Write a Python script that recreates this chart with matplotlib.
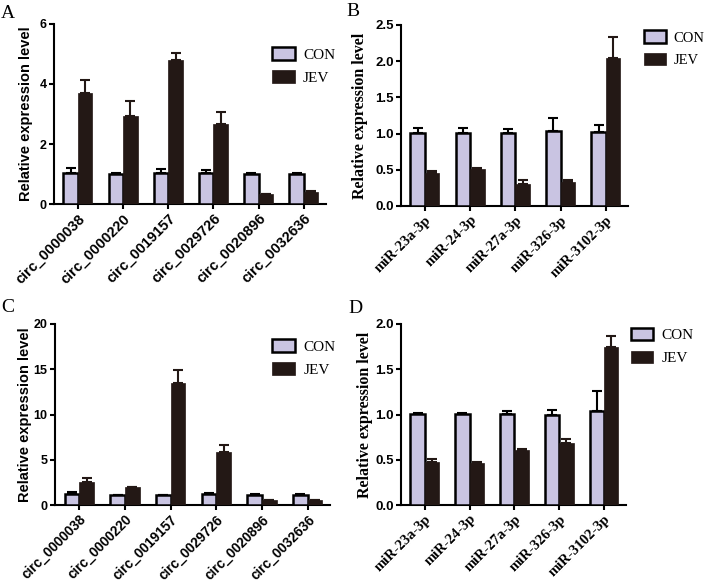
import matplotlib
matplotlib.use("Agg")
import matplotlib.pyplot as plt
import numpy as np

circ_labels = ["circ_0000038", "circ_0000220", "circ_0019157",
               "circ_0029726", "circ_0020896", "circ_0032636"]
mir_labels = ["miR-23a-3p", "miR-24-3p", "miR-27a-3p", "miR-326-3p", "miR-3102-3p"]

a_con = [1.04, 1.0, 1.02, 1.02, 1.0, 1.0]
a_con_err = [0.15, 0.02, 0.16, 0.1, 0.03, 0.04]
a_jev = [3.69, 2.92, 4.79, 2.68, 0.32, 0.41]
a_jev_err = [0.44, 0.5, 0.26, 0.4, 0.02, 0.02]

b_con = [1.01, 1.01, 1.01, 1.04, 1.02]
b_con_err = [0.07, 0.07, 0.05, 0.17, 0.1]
b_jev = [0.45, 0.51, 0.31, 0.33, 2.04]
b_jev_err = [0.04, 0.02, 0.05, 0.03, 0.29]

c_con = [1.18, 1.1, 1.07, 1.2, 1.15, 1.15]
c_con_err = [0.3, 0.05, 0.05, 0.08, 0.05, 0.05]
c_jev = [2.58, 1.95, 13.5, 5.9, 0.5, 0.5]
c_jev_err = [0.37, 0.08, 1.4, 0.7, 0.03, 0.03]

d_con = [1.005, 1.005, 1.01, 1.0, 1.04]
d_con_err = [0.015, 0.015, 0.025, 0.05, 0.22]
d_jev = [0.47, 0.465, 0.61, 0.68, 1.75]
d_jev_err = [0.035, 0.01, 0.01, 0.05, 0.12]

CON_COLOR = "#c9c4e2"
JEV_COLOR = "#231815"
SANS = "Liberation Sans"
SERIF = "Liberation Serif"

W, H = 709, 584
fig = plt.figure(figsize=(W / 100, H / 100), dpi=100)


def panel(box, letter_xy, letter, labels, con, con_err, jev, jev_err, ymax, ystep,
          label_font, legend_xy, ylabel_x, legend_size=11, xlabel_size=10.5):
    # box = (left, top, right, bottom) in pixels
    l, t, r, b = box
    ax = fig.add_axes([l / W, 1 - b / H, (r - l) / W, (b - t) / H])
    x = np.arange(len(labels))
    w = 0.32
    ax.bar(x - w / 2, con, w, color=CON_COLOR, edgecolor="black", linewidth=1.8, zorder=3)
    ax.bar(x + w / 2, jev, w, color=JEV_COLOR, edgecolor=JEV_COLOR, linewidth=0.5, zorder=3)
    ax.errorbar(x - w / 2, con, yerr=[np.zeros(len(con)), con_err], fmt="none",
                ecolor="black", elinewidth=1.5, capsize=3.5, capthick=1.5, zorder=2)
    ax.errorbar(x + w / 2, jev, yerr=[np.zeros(len(jev)), jev_err], fmt="none",
                ecolor=JEV_COLOR, elinewidth=1.5, capsize=3.5, capthick=1.5, zorder=2)
    ax.set_xlim(-0.53, len(labels) - 1 + 0.49)
    ax.set_ylim(0, ymax)
    ax.set_yticks(np.arange(0, ymax + ystep / 2, ystep))
    for s in ["top", "right"]:
        ax.spines[s].set_visible(False)
    for s in ["left", "bottom"]:
        ax.spines[s].set_linewidth(1.5)
    ax.tick_params(width=1.5, length=3.8, direction="out", pad=1.5)
    ax.set_xticks(x)
    ax.set_xticklabels(labels, rotation=45, ha="right", rotation_mode="anchor",
                       family=label_font, fontweight="bold", fontsize=xlabel_size)
    if ystep < 1:
        ax.set_yticklabels([f"{v:.1f}" for v in ax.get_yticks()])
    for tl in ax.get_yticklabels():
        tl.set_family(SANS)
        tl.set_fontweight("bold")
        tl.set_fontsize(9.5 if label_font == SERIF else 9)
    ax.set_ylabel("Relative expression level", family=label_font,
                  fontweight="bold", fontsize=10.5 if label_font == SANS else 11.5)
    ax.yaxis.set_label_coords(ylabel_x, 0.5)
    ax.legend(["CON", "JEV"], loc="upper left", bbox_to_anchor=legend_xy,
              frameon=False, borderpad=0, borderaxespad=0, handlelength=1.5,
              handleheight=0.9, labelspacing=0.55, handletextpad=0.55,
              prop={"family": SERIF, "size": legend_size})
    fig.text(letter_xy[0] / W, 1 - letter_xy[1] / H, letter, family=SERIF,
             fontsize=14, va="center", ha="left")
    return ax


panel((54, 24, 326, 204), (1, 13), "A", circ_labels, a_con, a_con_err,
      a_jev, a_jev_err, 6, 2, SANS, (0.80, 0.87), -0.077)
panel((401, 25, 628, 206), (346, 11), "B", mir_labels, b_con, b_con_err,
      b_jev, b_jev_err, 2.5, 0.5, SERIF, (1.07, 0.97), -0.145, legend_size=10.5)
panel((55, 324, 330, 505), (1, 307), "C", circ_labels, c_con, c_con_err,
      c_jev, c_jev_err, 20, 5, SANS, (0.79, 0.915), -0.084, xlabel_size=9.8)
panel((401, 324, 626, 505), (348, 309), "D", mir_labels, d_con, d_con_err,
      d_jev, d_jev_err, 2.0, 0.5, SERIF, (1.02, 0.98), -0.125)

fig.savefig("out.png", dpi=100)
